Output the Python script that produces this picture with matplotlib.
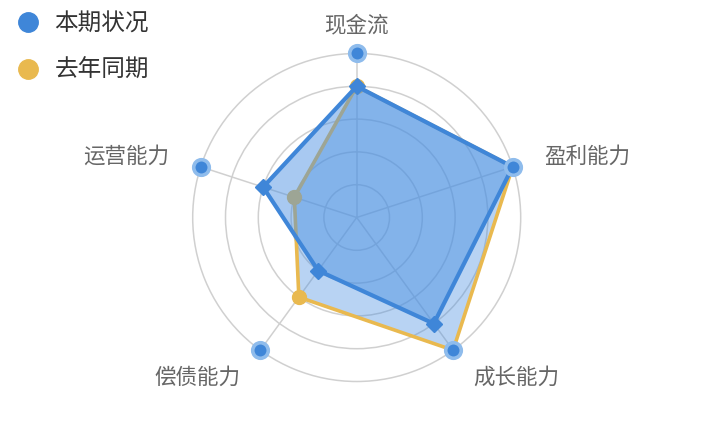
import numpy as np
import matplotlib
matplotlib.use("Agg")
import matplotlib.pyplot as plt
from matplotlib.lines import Line2D

plt.rcParams['font.family'] = ['Noto Sans CJK SC', 'DejaVu Sans']

categories = ['现金流', '盈利能力', '成长能力', '偿债能力', '运营能力']
current = [4, 5, 4, 2, 3]        # 本期状况
last_year = [4, 5, 5, 3, 2]      # 去年同期
max_value = 5
series_names = ['本期状况', '去年同期']

blue = '#3f86d8'
yellow = '#e9b94f'

W, H = 710, 438
fig = plt.figure(figsize=(W / 100, H / 100), dpi=100)
cx, cy, R = 356.7, 217.5, 164
ax = fig.add_axes([(cx - R) / W, 1 - (cy + R) / H, 2 * R / W, 2 * R / H],
                  projection='polar')
ax.set_theta_offset(np.pi / 2)
ax.set_theta_direction(-1)

n = len(categories)
theta = np.arange(n) * 2 * np.pi / n
tc = np.append(theta, theta[0])

ax.set_ylim(0, max_value)
ax.set_yticks([1, 2, 3, 4])
ax.set_yticklabels([])
ax.set_xticks(theta)
ax.set_xticklabels([])
ax.tick_params(length=0)
ax.grid(True, color='#d0d0d0', linewidth=1.1)
ax.spines['polar'].set_color('#d0d0d0')
ax.spines['polar'].set_linewidth(1.1)
ax.set_facecolor('none')

# last year series
ly = np.append(last_year, last_year[0])
ax.fill(tc, ly, color='#4a90e2', alpha=0.39, lw=0, zorder=2)
ax.plot(tc, ly, color=yellow, lw=2.6, zorder=3, solid_joinstyle='round')
ax.plot(theta, last_year, 'o', color=yellow, ms=10, zorder=3)

# current series
cu = np.append(current, current[0])
ax.fill(tc, cu, color='#4a90e2', alpha=0.48, lw=0, zorder=4)
ax.plot(tc, cu, color=blue, lw=3, zorder=5, solid_joinstyle='round')
ax.plot(theta, current, 'D', color=blue, ms=8, zorder=5)

# axis end markers
ax.plot(theta, [max_value] * n, 'o', ms=11.2, mfc=blue, mec='#8fbcec', mew=2.6,
        zorder=6, clip_on=False)

# labels
for t, lab in zip(theta, categories):
    x = np.sin(t)
    if abs(x) < 0.1:
        ha = 'center'
        r = max_value * 1.17
    elif x > 0:
        ha = 'left'
        r = max_value * 1.205
    else:
        ha = 'right'
        r = max_value * 1.205
    ax.text(t, r, lab, ha=ha, va='center', fontsize=15.5, color='#666666')

handles = [Line2D([], [], marker='o', ls='none', ms=14, color=blue),
           Line2D([], [], marker='o', ls='none', ms=14, color=yellow)]
fig.legend(handles, series_names, loc='upper left',
           bbox_to_anchor=(0.0, 1.009), frameon=False, fontsize=17,
           labelspacing=1.0, handlelength=1.0, handletextpad=0.6,
           labelcolor='#333333', borderaxespad=0.3)

fig.savefig('out.png', dpi=100)
